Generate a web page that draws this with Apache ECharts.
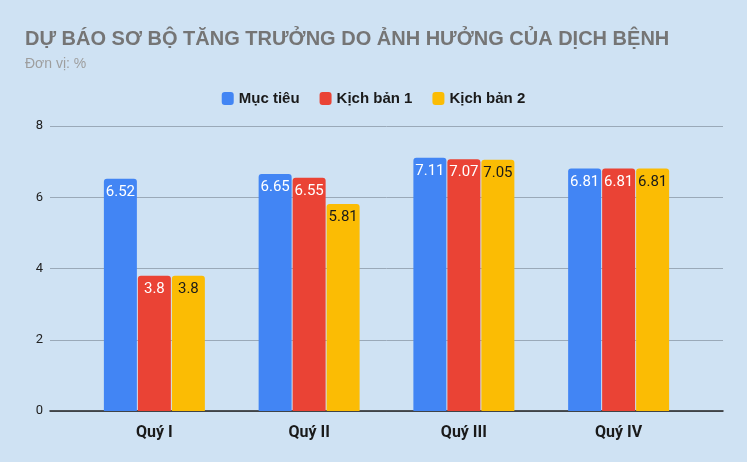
<!DOCTYPE html>
<html>
<head>
<meta charset="utf-8">
<script src="https://cdn.jsdelivr.net/npm/echarts@6/dist/echarts.min.js"></script>
<style>
  html, body { margin: 0; padding: 0; background: #cfe2f3; }
  #main { width: 747px; height: 462px; }
</style>
</head>
<body>
<div id="main"></div>
<script>
// du lieu doc tu hinh
var categories = ['Quý I', 'Quý II', 'Quý III', 'Quý IV'];
var mucTieu = [6.52, 6.65, 7.11, 6.81];
var kichBan1 = [3.8, 6.55, 7.07, 6.81];
var kichBan2 = [3.8, 5.81, 7.05, 6.81];
var yTicks = [0, 2, 4, 6, 8];

var myChart = echarts.init(document.getElementById('main'));

function labelOf(color) {
    return {
        show: true,
        position: 'insideTop',
        distance: 6,
        color: color,
        fontSize: 15,
        fontFamily: 'Roboto, Arial, sans-serif'
    };
}

var yMin = yTicks[0], yMax = yTicks[yTicks.length - 1];

var option = {
    backgroundColor: '#cfe2f3',
    textStyle: { fontFamily: 'Roboto, Arial, sans-serif' },
    title: {
        text: 'DỰ BÁO SƠ BỘ TĂNG TRƯỞNG DO ẢNH HƯỞNG CỦA DỊCH BỆNH',
        subtext: 'Đơn vị: %',
        left: 20,
        top: 24,
        itemGap: 8,
        textStyle: {
            color: '#757575',
            fontSize: 20,
            fontWeight: 'bold',
            fontFamily: '"Liberation Sans", Arial, sans-serif'
        },
        subtextStyle: {
            color: '#9e9e9e',
            fontSize: 14,
            fontFamily: '"Liberation Sans", Arial, sans-serif'
        }
    },
    legend: {
        top: 86,
        left: 'center',
        itemWidth: 12,
        itemHeight: 13,
        itemGap: 20,
        icon: 'roundRect',
        textStyle: {
            color: '#1a1a1a',
            fontSize: 15,
            fontWeight: 'bold',
            fontFamily: '"Liberation Sans", Arial, sans-serif'
        }
    },
    // grid 0: khung luoi day du, grid 1: vung cot (co le hai ben)
    grid: [
        { left: 50, right: 24, top: 126, bottom: 51 },
        { left: 77, right: 51, top: 126, bottom: 51 }
    ],
    xAxis: [
        {
            type: 'category',
            gridIndex: 0,
            data: categories,
            axisTick: { show: false },
            axisLabel: { show: false },
            axisLine: { lineStyle: { color: '#222', width: 1.5 } }
        },
        {
            type: 'category',
            gridIndex: 1,
            data: categories,
            axisTick: { show: false },
            axisLine: { show: false },
            axisLabel: {
                color: '#1a1a1a',
                fontSize: 16,
                fontWeight: 'bold',
                margin: 14
            }
        }
    ],
    yAxis: [
        {
            type: 'value',
            gridIndex: 0,
            min: yMin,
            max: yMax,
            interval: 2,
            axisLine: { show: false },
            axisTick: { show: false },
            axisLabel: { color: '#222', fontSize: 13, margin: 7 },
            splitLine: { lineStyle: { color: '#9aa9b8', width: 1 } }
        },
        {
            type: 'value',
            gridIndex: 1,
            min: yMin,
            max: yMax,
            interval: 2,
            axisLine: { show: false },
            axisTick: { show: false },
            axisLabel: { show: false },
            splitLine: { show: false }
        }
    ],
    series: [
        {
            name: 'Mục tiêu',
            type: 'bar',
            xAxisIndex: 1,
            yAxisIndex: 1,
            data: mucTieu,
            barWidth: 33,
            barGap: '3%',
            itemStyle: { color: '#4285f4', borderRadius: [3, 3, 0, 0] },
            label: labelOf('#ffffff')
        },
        {
            name: 'Kịch bản 1',
            type: 'bar',
            xAxisIndex: 1,
            yAxisIndex: 1,
            data: kichBan1,
            barWidth: 33,
            itemStyle: { color: '#ea4335', borderRadius: [3, 3, 0, 0] },
            label: labelOf('#ffffff')
        },
        {
            name: 'Kịch bản 2',
            type: 'bar',
            xAxisIndex: 1,
            yAxisIndex: 1,
            data: kichBan2,
            barWidth: 33,
            itemStyle: { color: '#fbbc04', borderRadius: [3, 3, 0, 0] },
            label: labelOf('#1a1a1a')
        }
    ]
};

option && myChart.setOption(option);
</script>
</body>
</html>
